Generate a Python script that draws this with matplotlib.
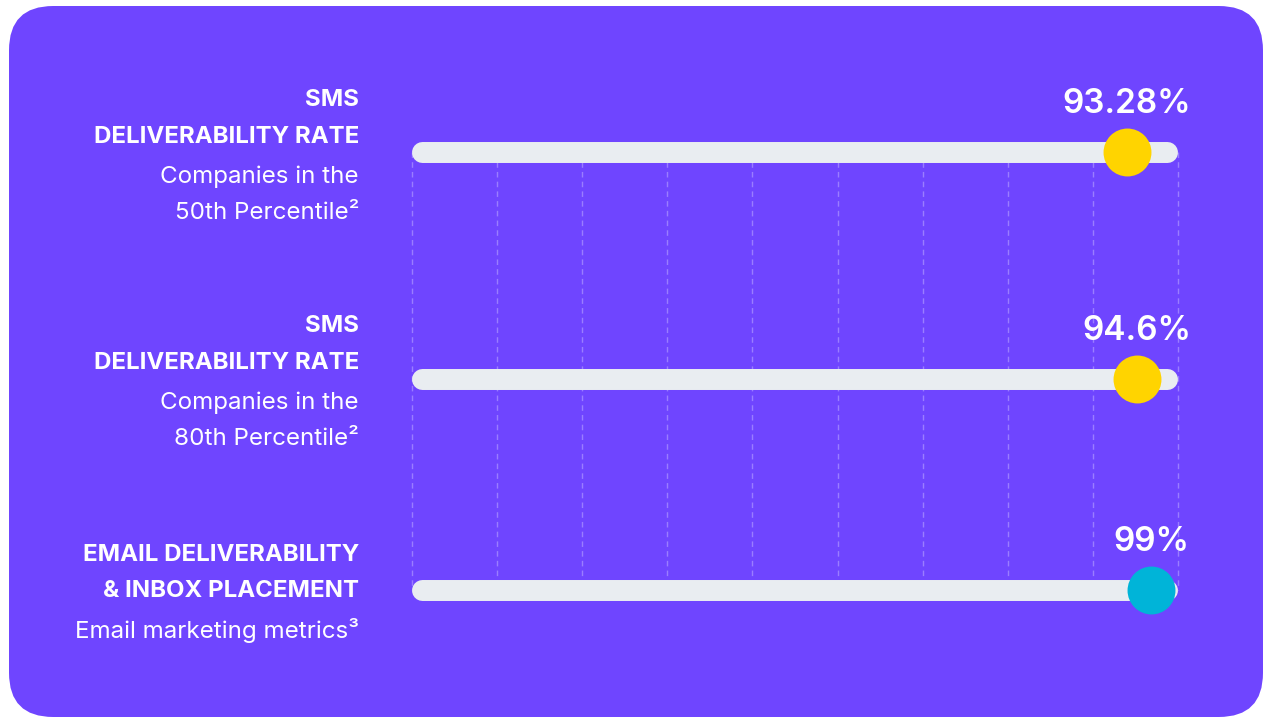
import matplotlib

matplotlib.use("Agg")
import matplotlib.pyplot as plt
from matplotlib.patches import FancyBboxPatch

plt.rcParams["font.family"] = ["Inter", "DejaVu Sans"]

# ---- data ------------------------------------------------------------------
titles = [
    ["SMS", "DELIVERABILITY RATE"],
    ["SMS", "DELIVERABILITY RATE"],
    ["EMAIL DELIVERABILITY", "& INBOX PLACEMENT"],
]
subtitles = [
    ["Companies in the", "50th Percentile²"],
    ["Companies in the", "80th Percentile²"],
    ["Email marketing metrics³"],
]
values = [93.28, 94.6, 99]
value_labels = ["93.28%", "94.6%", "99%"]
dot_colors = ["#FFD400", "#FFD400", "#00B4D8"]
grid_ticks = [0, 11.11, 22.22, 33.33, 44.44, 55.56, 66.67, 77.78, 88.89, 100]

# ---- layout (pixels, figure is 1263 x 717) ---------------------------------
W, H = 1263, 717
PURPLE = "#6F45FF"
TRACK = "#E9EDF1"
row_y = [152, 379, 590]          # track centre lines
track_x0, track_x1 = 412, 1178   # track extent in pixels
px_per_unit = (track_x1 - track_x0) / 100.0

fig = plt.figure(figsize=(W / 100, H / 100), dpi=100)
fig.patch.set_facecolor("white")

# rounded purple card (behind the axes)
card = FancyBboxPatch((9 / W, 0), (W - 9) / W, (H - 6) / H,
                      boxstyle="round,pad=0,rounding_size=0.035",
                      transform=fig.transFigure, facecolor=PURPLE,
                      edgecolor="none", mutation_aspect=W / H, zorder=-5)
fig.patches.append(card)

# full-figure axes: x in percent units, y in pixels from top
ax = fig.add_axes([0, 0, 1, 1])
ax.set_xlim(-track_x0 / px_per_unit, (W - track_x0) / px_per_unit)
ax.set_ylim(H, 0)
ax.axis("off")
ax.patch.set_alpha(0)

# dashed grid
ax.vlines(grid_ticks, row_y[0], row_y[-1], colors="#A68CFF",
          linestyles=(0, (4, 3)), linewidth=1, alpha=0.8, zorder=1)

cap = 10.5 / px_per_unit
dot_r = 24 / px_per_unit
for i, y in enumerate(row_y):
    ax.plot([cap, 100 - cap], [y, y], color=TRACK, linewidth=15.1,
            solid_capstyle="round", zorder=2)
    x = min(values[i], 100 - dot_r - 0.4)
    ax.scatter([x], [y], s=34.5 ** 2, color=dot_colors[i], zorder=3,
               linewidths=0)
    ax.text(x, y - 39, value_labels[i], color="white", fontsize=24,
            fontweight="semibold", ha="center", va="baseline", zorder=4)

# left-hand labels
label_x = 359 / W
title_base = [[106, 143], [332, 369], [561, 597]]
sub_base = [[183, 219], [409, 445], [638]]
for i in range(3):
    for txt, yb in zip(titles[i], title_base[i]):
        fig.text(label_x, 1 - yb / H, txt, color="white", fontsize=17.3,
                 fontweight="bold", ha="right", va="baseline")
    for txt, yb in zip(subtitles[i], sub_base[i]):
        fig.text(label_x, 1 - yb / H, txt, color="white", fontsize=17.4,
                 ha="right", va="baseline")

fig.savefig("out.png", dpi=100, facecolor="white")
